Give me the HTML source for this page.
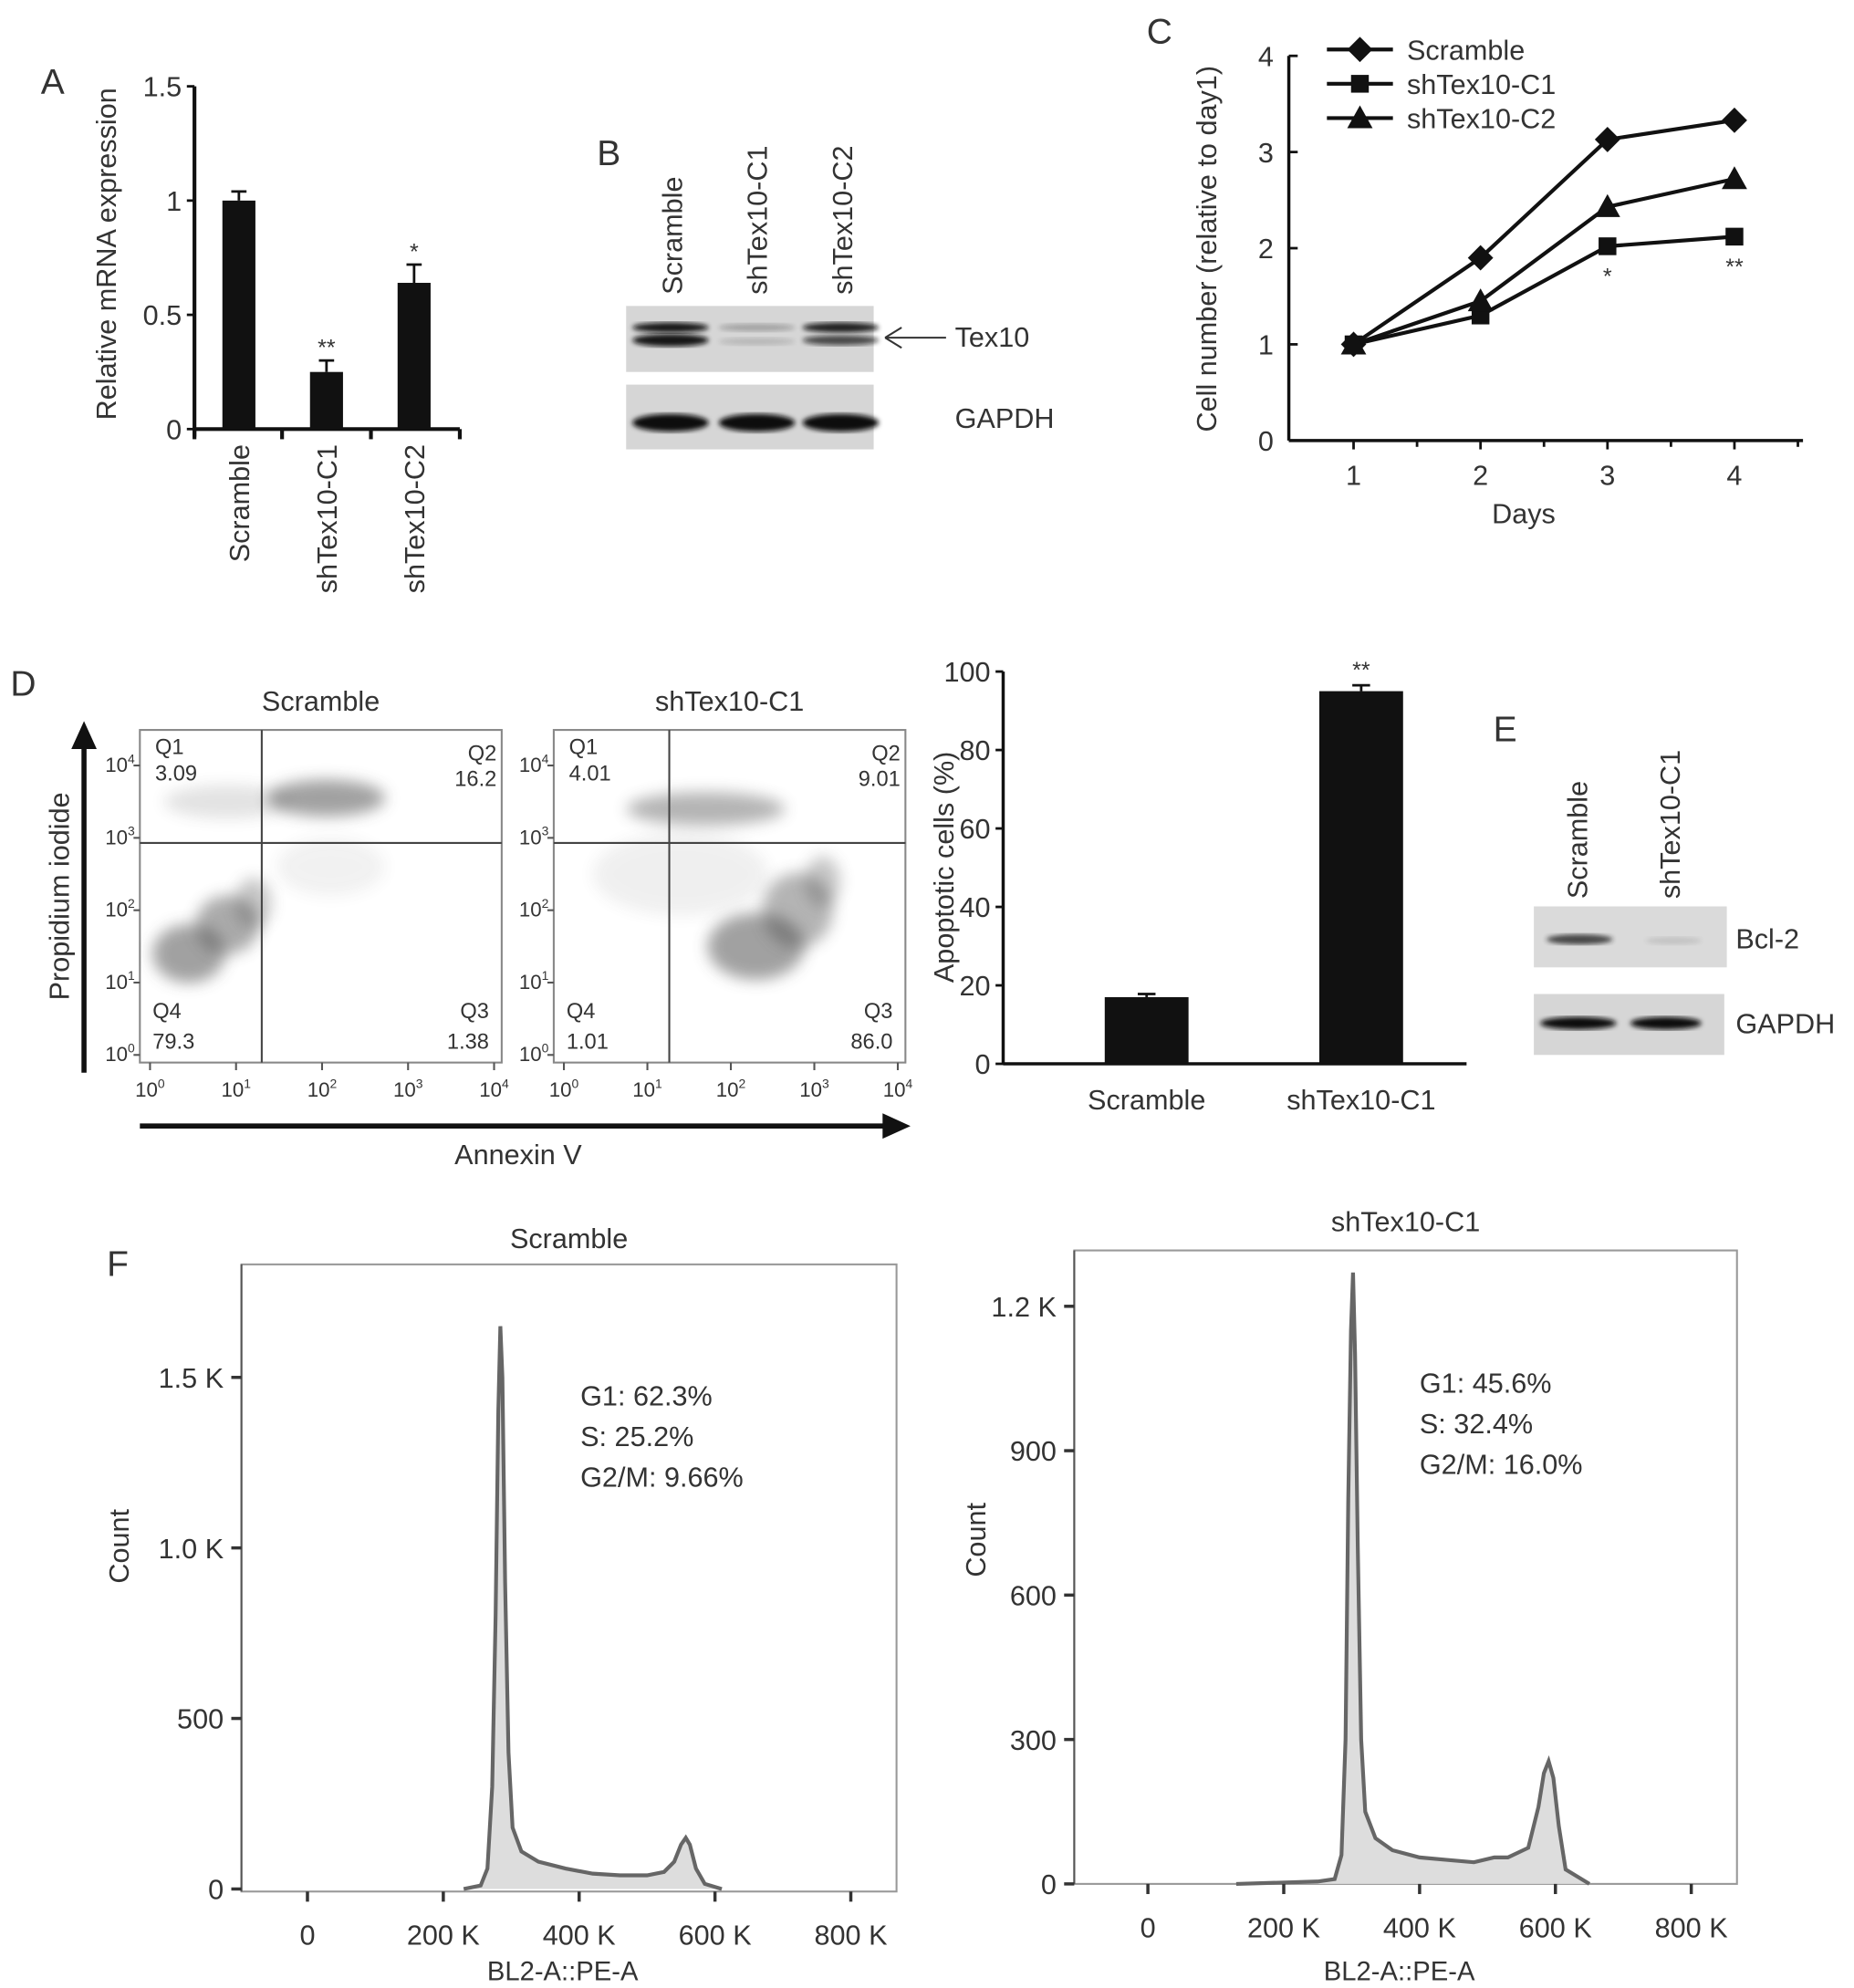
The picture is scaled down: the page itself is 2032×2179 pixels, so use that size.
<!DOCTYPE html>
<html><head><meta charset="utf-8"><style>
html,body{margin:0;padding:0;background:#fff;}
svg{display:block;font-family:"Liberation Sans",sans-serif;}
text{fill:#333;}
</style></head><body>
<svg id="fig" width="2032" height="2179" viewBox="0 0 1460 1566" xmlns="http://www.w3.org/2000/svg">
<defs><filter id="blur" x="-50%" y="-50%" width="200%" height="200%"><feGaussianBlur stdDeviation="6"/></filter>
<filter id="blur2"><feGaussianBlur stdDeviation="2"/></filter></defs>
<g id="root"></g>
</svg>
<script>
// ---- Panel A data ----
const aCats = ["Scramble","shTex10-C1","shTex10-C2"];
const aVals = [1.0,0.25,0.64];
const aErr = [0.04,0.05,0.08];
const aStars = ["","**","*"];
const aTicks = [0,0.5,1,1.5];
const aTickLabels = ["0","0.5","1","1.5"];
// ---- Panel C data ----
const cDays = [1,2,3,4];
const cScramble = [1.0,1.9,3.13,3.33];
const cC1 = [1.0,1.3,2.02,2.12];
const cC2 = [1.0,1.45,2.43,2.72];
const cTicks = [0,1,2,3,4];
// ---- Panel D bar data ----
const dCats = ["Scramble","shTex10-C1"];
const dVals = [17,95];
const dErr = [0.8,1.5];
const dTicks = [0,20,40,60,80,100];
// ---- Panel D flow quadrants ----
const fScrQ = ["3.09","16.2","1.38","79.3"];
const fC1Q = ["4.01","9.01","86.0","1.01"];
// clusters: [log x, log y, rx(decades), ry(decades), darkness]
const fScrClusters = [[0.45,1.4,0.4,0.35,0.5],[0.9,1.8,0.35,0.35,0.45],[1.2,2.1,0.2,0.3,0.3],[2.05,3.55,0.65,0.22,0.5],[0.9,3.5,0.7,0.2,0.15],[2.1,2.6,0.6,0.35,0.07]];
const fC1Clusters = [[2.3,1.5,0.55,0.4,0.5],[2.8,2.0,0.4,0.45,0.4],[3.1,2.4,0.2,0.3,0.3],[1.7,3.4,0.9,0.2,0.4],[1.4,2.5,1.0,0.5,0.08]];
// ---- Panel F histogram data [K, count] ----
const hScr = [[230,0],[255,10],[265,60],[272,300],[277,800],[281,1400],[284,1650],[287,1500],[291,900],[296,400],[302,180],[315,110],[340,80],[380,60],[420,45],[460,40],[500,40],[525,50],[540,80],[550,130],[557,150],[563,130],[572,60],[585,15],[610,0]];
const hC1 = [[130,0],[250,5],[275,10],[285,60],[291,300],[295,800],[299,1150],[302,1270],[305,1100],[309,700],[314,300],[320,150],[335,95],[360,70],[400,55],[440,50],[480,45],[510,55],[530,55],[560,75],[575,160],[583,230],[590,255],[597,220],[605,120],[615,30],[650,0]];
const hScrTicks = [0,500,1000,1500];
const hScrTickLabels = ["0","500","1.0 K","1.5 K"];
const hC1Ticks = [0,300,600,900,1200];
const hC1TickLabels = ["0","300","600","900","1.2 K"];
const hXTicks = [0,200,400,600,800];
const hXTickLabels = ["0","200 K","400 K","600 K","800 K"];

const NS="http://www.w3.org/2000/svg";
const root=document.getElementById('root');
function el(tag,attrs,parent,txt){const e=document.createElementNS(NS,tag);for(const k in attrs)e.setAttribute(k,attrs[k]);if(txt!==undefined)e.textContent=txt;(parent||root).appendChild(e);return e;}
function grp(name){const g=el('g',{});return g;}
function txt(g,x,y,s,size,anchor,rot,name){const t=el('text',{x:x,y:y,'font-size':size,'text-anchor':anchor||'start'},g,s);if(rot)t.setAttribute('transform',`rotate(${rot} ${x} ${y})`);return t;}
function line(g,x1,y1,x2,y2,w,c){const l=el('line',{x1,y1,x2,y2,stroke:c||'#111','stroke-width':w||2},g);return l;}

// ===== Panel A =====
(function(){
const g=grp('panel-a');
txt(g,32,74,'A',28,'start',0,'panel-letter-a');
const x0=153,yb=338,yt=68,ymax=1.5;
const ys=v=>yb-(v/ymax)*(yb-yt);
const xc=i=>188+i*69;
line(g,x0,yt,x0,yb+6,3);line(g,x0,yb,362,yb,3);
aTicks.forEach((t,i)=>{line(g,x0-6,ys(t),x0,ys(t),2);txt(g,x0-10,ys(t)+8,aTickLabels[i],22,'end',0,'y-tick-label');});
[153,222,292,362].forEach(x=>line(g,x,yb,x,yb+8,3));
aVals.forEach((v,i)=>{
 const b=el('rect',{x:xc(i)-13,y:ys(v),width:26,height:yb-ys(v),fill:'#111'},g);
 
 line(g,xc(i),ys(v),xc(i),ys(v+aErr[i]),2);line(g,xc(i)-6,ys(v+aErr[i]),xc(i)+6,ys(v+aErr[i]),2);
 if(aStars[i])txt(g,xc(i),ys(v+aErr[i])-4,aStars[i],18,'middle',0,'significance-mark');
 txt(g,xc(i)+8,350,aCats[i],22,'end',-90,'x-tick-label');
});
txt(g,91,200,'Relative mRNA expression',22,'middle',-90,'y-axis-title');
})();

// ===== Panel B =====
(function(){
const g=grp('panel-b-western-blot');
txt(g,470,130,'B',28,'start',0,'panel-letter-b');
['Scramble','shTex10-C1','shTex10-C2'].forEach((s,i)=>txt(g,537+i*67,232,s,22,'start',-90,'lane-label'));
el('rect',{x:493,y:241,width:195,height:52,fill:'#d6d6d6'},g);
el('rect',{x:493,y:303,width:195,height:51,fill:'#d6d6d6'},g);
const bands=[[528,258,0.95,4],[528,268,0.95,5],[596,258,0.25,3],[596,269,0.15,3],[662,258,0.9,4],[662,268,0.7,4]];
bands.forEach(b=>el('ellipse',{cx:b[0],cy:b[1],rx:30,ry:b[3],fill:'#111',opacity:b[2],filter:'url(#blur2)'},g));
[528,596,662].forEach(x=>el('ellipse',{cx:x,cy:333,rx:30,ry:7,fill:'#111',filter:'url(#blur2)'},g));
line(g,745,266,697,266,1.5,'#333');line(g,697,266,710,258,1.5,'#333');line(g,697,266,710,274,1.5,'#333');
txt(g,752,273,'Tex10',22,'start',0,'band-label-tex10');
txt(g,752,337,'GAPDH',22,'start',0,'band-label-gapdh');
})();

// ===== Panel C =====
(function(){
const g=grp('panel-c-growth-curve');
txt(g,903,34,'C',28,'start',0,'panel-letter-c');
const x0=1015,yb=347,yt=44,ymax=4;
const ys=v=>yb-(v/ymax)*(yb-yt);
const xs=d=>1066+(d-1)*100;
line(g,x0,yt,x0,yb,2.5);line(g,x0,yb,1420,yb,2.5);
cTicks.forEach(t=>{line(g,x0,ys(t),x0+7,ys(t),2);txt(g,x0-12,ys(t)+8,String(t),22,'end',0,'y-tick-label');});
cDays.forEach(d=>{line(g,xs(d),yb,xs(d),yb+7,2);txt(g,xs(d),382,String(d),22,'middle',0,'x-tick-label');});
[1116,1216,1316,1416].forEach(x=>line(g,x,yb,x,yb+5,2));
const series=[[cScramble,'diamond','Scramble'],[cC1,'square','shTex10-C1'],[cC2,'triangle','shTex10-C2']];
function marker(gg,x,y,type){
 if(type==='diamond')el('polygon',{points:`${x},${y-10} ${x+10},${y} ${x},${y+10} ${x-10},${y}`,fill:'#111'},gg);
 else if(type==='square')el('rect',{x:x-7,y:y-7,width:14,height:14,fill:'#111'},gg);
 else el('polygon',{points:`${x},${y-10} ${x+10},${y+8} ${x-10},${y+8}`,fill:'#111'},gg);
}
series.forEach((s,k)=>{
 const sg=grp('series-'+s[2]);
 el('polyline',{points:s[0].map((v,i)=>xs(cDays[i])+','+ys(v)).join(' '),fill:'none',stroke:'#111','stroke-width':3},sg);
 s[0].forEach((v,i)=>marker(sg,xs(cDays[i]),ys(v),s[1]));
 const ly=39+k*27;
 line(sg,1045,ly,1097,ly,3);marker(sg,1071,ly,s[1]);
 txt(sg,1108,ly+8,s[2],22,'start',0,'legend-entry');
});
txt(g,xs(3),ys(cC1[2])+30,'*',18,'middle',0,'significance-mark');
txt(g,xs(4),ys(cC1[3])+30,'**',18,'middle',0,'significance-mark');
txt(g,1200,412,'Days',22,'middle',0,'x-axis-title');
txt(g,958,196,'Cell number (relative to day1)',22,'middle',-90,'y-axis-title');
})();

// ===== Panel D flow =====
(function(){
const g=grp('panel-d-flow-cytometry');
txt(g,8,548,'D',28,'start',0,'panel-letter-d');
function plot(x1,x2,title,q,clusters,gx,name){
 const pg=grp(name);
 const y1=575,y2=837;
 const xs=l=>x1+8+l*(x2-x1-14)/4;
 const ys=l=>y2-6-l*(y2-y1-34)/4;
 el('rect',{x:x1,y:y1,width:x2-x1,height:y2-y1,fill:'#fff',stroke:'#888','stroke-width':1.5},pg);
 clusters.forEach(c=>{el('ellipse',{cx:xs(c[0]),cy:ys(c[1]),rx:c[2]*(x2-x1)/4,ry:c[3]*(y2-y1)/4,fill:'#444',opacity:c[4],filter:'url(#blur)'},pg);});
 const gyp=ys(2.93);
 line(pg,gx,y1,gx,y2,1.5,'#444');line(pg,x1,gyp,x2,gyp,1.5,'#444');
 txt(pg,(x1+x2)/2,560,title,22,'middle',0,'plot-title');
 txt(pg,x1+12,594,'Q1',17,'start',0,'quadrant-label');txt(pg,x1+12,615,q[0],17,'start',0,'quadrant-value');
 txt(pg,x2-4,599,'Q2',17,'end',0,'quadrant-label');txt(pg,x2-4,619,q[1],17,'end',0,'quadrant-value');
 txt(pg,x2-10,802,'Q3',17,'end',0,'quadrant-label');txt(pg,x2-10,826,q[2],17,'end',0,'quadrant-value');
 txt(pg,x1+10,802,'Q4',17,'start',0,'quadrant-label');txt(pg,x1+10,826,q[3],17,'start',0,'quadrant-value');
 for(let d=0;d<=4;d++){
  line(pg,x1-5,ys(d),x1,ys(d),1.5,'#555');
  const t=txt(pg,x1-4,ys(d)+5,'10',16,'end',0,'y-tick-label');
  el('tspan',{dy:-7,'font-size':10},t,String(d));
  line(pg,xs(d),y2,xs(d),y2+6,1.5,'#555');
  const t2=txt(pg,xs(d),864,'10',16,'middle',0,'x-tick-label');
  el('tspan',{dy:-7,'font-size':10},t2,String(d));
 }
}
plot(110,395,'Scramble',fScrQ,fScrClusters,206,'flow-plot-scramble');
plot(436,713,'shTex10-C1',fC1Q,fC1Clusters,527,'flow-plot-shtex10-c1');
line(g,66,845,66,580,4);el('polygon',{points:'56,590 66,568 76,590',fill:'#111'},g);
line(g,110,887,705,887,4);el('polygon',{points:'695,877 717,887 695,897',fill:'#111'},g);
txt(g,408,917,'Annexin V',22,'middle',0,'x-axis-title');
txt(g,54,706,'Propidium iodide',22,'middle',-90,'y-axis-title');
})();

// ===== Panel D bar =====
(function(){
const g=grp('panel-d-apoptosis-bar');
const x0=790,yb=838,yt=529,ymax=100;
const ys=v=>yb-(v/ymax)*(yb-yt);
const xc=i=>903+i*169;
line(g,x0,yt,x0,yb,2.5);line(g,x0,yb,1155,yb,2.5);
dTicks.forEach(t=>{line(g,x0-6,ys(t),x0,ys(t),2);txt(g,x0-10,ys(t)+8,String(t),22,'end',0,'y-tick-label');});
dVals.forEach((v,i)=>{
 const b=el('rect',{x:xc(i)-33,y:ys(v),width:66,height:yb-ys(v),fill:'#111'},g);
 
 line(g,xc(i),ys(v),xc(i),ys(v+dErr[i]),2);line(g,xc(i)-7,ys(v+dErr[i]),xc(i)+7,ys(v+dErr[i]),2);
 txt(g,xc(i),874,dCats[i],22,'middle',0,'x-tick-label');
});
txt(g,xc(1),ys(dVals[1]+dErr[1])-6,'**',18,'middle',0,'significance-mark');
txt(g,751,683,'Apoptotic cells (%)',22,'middle',-90,'y-axis-title');
})();

// ===== Panel E =====
(function(){
const g=grp('panel-e-western-blot');
txt(g,1176,584,'E',28,'start',0,'panel-letter-e');
txt(g,1250,708,'Scramble',22,'start',-90,'lane-label');
txt(g,1323,708,'shTex10-C1',22,'start',-90,'lane-label');
el('rect',{x:1208,y:714,width:152,height:48,fill:'#dadada'},g);
el('rect',{x:1208,y:783,width:150,height:48,fill:'#d6d6d6'},g);
el('ellipse',{cx:1244,cy:740,rx:26,ry:4,fill:'#222',opacity:0.8,filter:'url(#blur2)'},g);
el('ellipse',{cx:1318,cy:741,rx:22,ry:3,fill:'#222',opacity:0.12,filter:'url(#blur2)'},g);
el('ellipse',{cx:1243,cy:806,rx:30,ry:5,fill:'#111',filter:'url(#blur2)'},g);
el('ellipse',{cx:1312,cy:806,rx:28,ry:5,fill:'#111',filter:'url(#blur2)'},g);
txt(g,1367,747,'Bcl-2',22,'start',0,'band-label-bcl2');
txt(g,1367,814,'GAPDH',22,'start',0,'band-label-gapdh');
})();

// ===== Panel F =====
function hist(name,bx1,bx2,by1,by2,x0px,ymin,yPerCount,data,ticks,tickLabels,title,titleY,stats,statsX,statsY){
 const g=grp(name);
 const xs=k=>x0px+k*0.535;
 const ys=c=>ymin-c*yPerCount;
 el('rect',{x:bx1,y:by1,width:bx2-bx1,height:by2-by1,fill:'#fff',stroke:'#999','stroke-width':1.5},g);
 const pts=data.map(d=>xs(d[0])+','+ys(d[1])).join(' ');
 el('polygon',{points:xs(data[0][0])+','+ymin+' '+pts+' '+xs(data[data.length-1][0])+','+ymin,fill:'#ddd'},g);
 const p=el('polyline',{points:pts,fill:'none',stroke:'#666','stroke-width':3},g);
 
 line(g,bx1,by1,bx1,by2,1.5,'#555');
 ticks.forEach((t,i)=>{line(g,bx1-8,ys(t),bx1,ys(t),2.5,'#333');txt(g,bx1-14,ys(t)+8,tickLabels[i],22,'end',0,'y-tick-label');});
 hXTicks.forEach((t,i)=>{line(g,xs(t),by2,xs(t),by2+8,2.5,'#333');txt(g,xs(t),by2+42,hXTickLabels[i],22,'middle',0,'x-tick-label');});
 txt(g,(bx1+bx2)/2,titleY,title,22,'middle',0,'plot-title');
 stats.forEach((s,i)=>txt(g,statsX,statsY+i*32,s,22,'start',0,'phase-stat'));
 txt(g,(bx1+bx2)/2-5,1560,'BL2-A::PE-A',21,'middle',0,'x-axis-title');
 return g;
}
txt(root,84,1005,'F',28,'start',0,'panel-letter-f');
hist('histogram-scramble',190,706,996,1490,242,1488,(1488-1085)/1500,hScr,hScrTicks,hScrTickLabels,'Scramble',983,['G1: 62.3%','S: 25.2%','G2/M: 9.66%'],457,1107);
txt(root,101,1218,'Count',22,'middle',-90,'y-axis-title');
hist('histogram-shtex10-c1',846,1368,985,1484,904,1484,(1484-1029)/1200,hC1,hC1Ticks,hC1TickLabels,'shTex10-C1',970,['G1: 45.6%','S: 32.4%','G2/M: 16.0%'],1118,1097);
txt(root,776,1213,'Count',22,'middle',-90,'y-axis-title');
</script>
</body></html>
